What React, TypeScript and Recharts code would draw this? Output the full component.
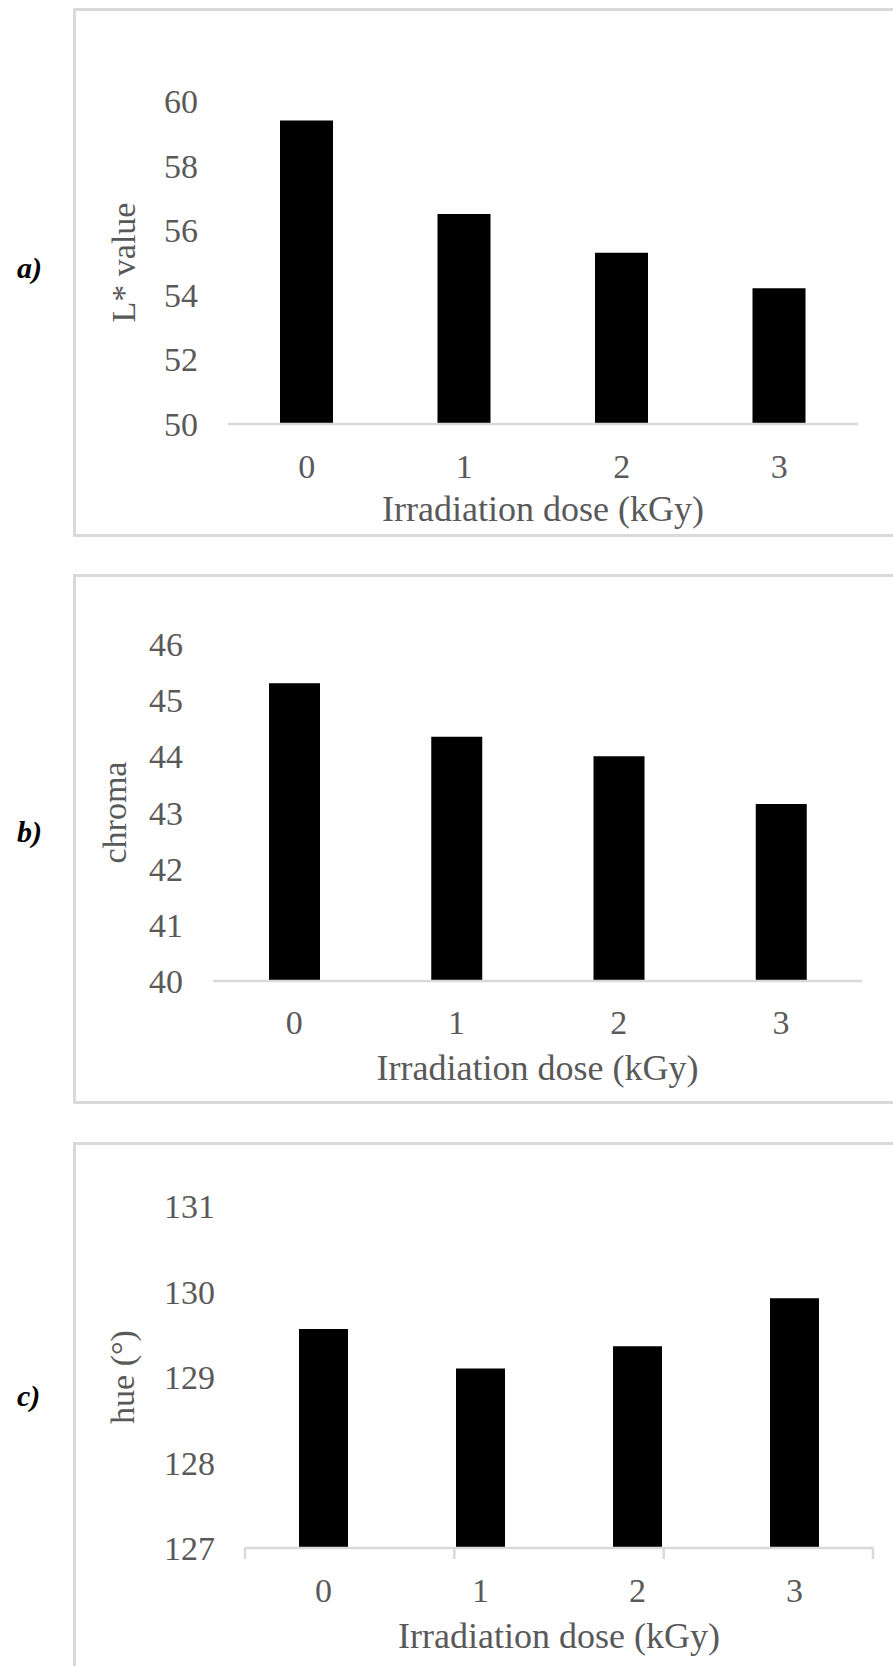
import React from "react";
import {Bar, BarChart, Label, XAxis, YAxis} from "recharts";

const doses = ["0", "1", "2", "3"];
const doseEdges = [0, 1, 2, 3, 4];

const lValues = [59.4, 56.5, 55.3, 54.2];
const chromaValues = [45.3, 44.35, 44.0, 43.15];
const hueValues = [129.56, 129.1, 129.36, 129.92];

const lTicks = [50, 52, 54, 56, 58, 60];
const chromaTicks = [40, 41, 42, 43, 44, 45, 46];
const hueTicks = [127, 128, 129, 130, 131];

const xTitle = "Irradiation dose (kGy)";

const fontFamily = '"Liberation Serif", "Times New Roman", serif';
const textGray = "#595959";
const lineGray = "#d9d9d9";
const tickFont = 34;
const titleFont = 36;
const yTitleFont = 34;

const NoTick = () => <g/>;

interface PanelProps {
    tag: string;
    tagY: number;
    boxTop: number;
    boxHeight: number;
    chartTop: number;
    chartHeight: number;
    margin: { top: number; right: number; bottom: number; left: number };
    yWidth: number;
    xHeight: number;
    values: number[];
    ticks: number[];
    yTitle: string;
    yTitleShift: number;
    barSize: number;
    xTickMargin: number;
    betweenTicks?: boolean;
}

const Panel = (p: PanelProps) => {
    const data = doses.map((dose, i) => ({dose, value: p.values[i]}));
    const domain = [p.ticks[0], p.ticks[p.ticks.length - 1]];

    return (
        <>
            <div style={{
                position: 'absolute', left: 17, top: p.tagY - 17, fontFamily, fontSize: 30,
                fontWeight: 'bold', fontStyle: 'italic', lineHeight: '34px', color: '#000',
            }}>{p.tag}</div>
            <div style={{
                position: 'absolute', left: 73, top: p.boxTop, width: 900, height: p.boxHeight,
                border: `3px solid ${lineGray}`, boxSizing: 'border-box',
            }}/>
            <div style={{position: 'absolute', left: 0, top: p.chartTop}}>
                <BarChart width={893} height={p.chartHeight} data={data} margin={p.margin} barSize={p.barSize}>
                    {p.betweenTicks && (
                        // tick marks sit between the categories, like in Excel
                        <XAxis
                            xAxisId={0}
                            type="number"
                            domain={[0, doseEdges.length - 1]}
                            ticks={doseEdges}
                            tick={NoTick}
                            height={1}
                            tickSize={11}
                            axisLine={{stroke: lineGray, strokeWidth: 2.5}}
                            tickLine={{stroke: lineGray, strokeWidth: 2.5}}
                        />
                    )}
                    <XAxis
                        xAxisId={1}
                        dataKey="dose"
                        height={p.xHeight}
                        axisLine={p.betweenTicks ? false : {stroke: lineGray, strokeWidth: 2.5}}
                        tickLine={false}
                        tickSize={0}
                        tickMargin={p.xTickMargin}
                        tick={{fill: textGray, fontSize: tickFont, fontFamily}}
                    >
                        <Label value={xTitle} position="center" fill={textGray} fontSize={titleFont} fontFamily={fontFamily}/>
                    </XAxis>
                    <YAxis
                        width={p.yWidth}
                        domain={domain}
                        ticks={p.ticks}
                        axisLine={false}
                        tickLine={false}
                        tickSize={0}
                        tickMargin={30}
                        tick={{fill: textGray, fontSize: tickFont, fontFamily}}
                    >
                        <Label value={p.yTitle} angle={-90} position="center" dx={-p.yTitleShift}
                               fill={textGray} fontSize={yTitleFont} fontFamily={fontFamily}/>
                    </YAxis>
                    <Bar dataKey="value" xAxisId={1} fill="#000" isAnimationActive={false}/>
                </BarChart>
            </div>
        </>
    );
};

export default function App() {
    return (
        <div style={{position: 'absolute', left: 0, top: 0, width: 893, height: 1666, overflow: 'hidden', background: '#fff'}}>
            <Panel
                tag="a)" tagY={268} boxTop={8} boxHeight={529}
                chartTop={0} chartHeight={592}
                margin={{top: 101, right: 35, bottom: 0, left: 41}}
                yWidth={187} xHeight={168}
                values={lValues} ticks={lTicks} yTitle="L* value" yTitleShift={12}
                barSize={53} xTickMargin={30}
            />
            <Panel
                tag="b)" tagY={832} boxTop={574} boxHeight={530}
                chartTop={560} chartHeight={593}
                margin={{top: 84, right: 31, bottom: 0, left: 30}}
                yWidth={183} xHeight={172}
                values={chromaValues} ticks={chromaTicks} yTitle="chroma" yTitleShift={8}
                barSize={51} xTickMargin={29}
            />
            <Panel
                tag="c)" tagY={1396} boxTop={1142} boxHeight={600}
                chartTop={1120} chartHeight={601}
                margin={{top: 86, right: 20, bottom: 0, left: 28}}
                yWidth={217} xHeight={172}
                values={hueValues} ticks={hueTicks} yTitle="hue (°)" yTitleShift={15}
                barSize={49} xTickMargin={29} betweenTicks
            />
        </div>
    );
}
